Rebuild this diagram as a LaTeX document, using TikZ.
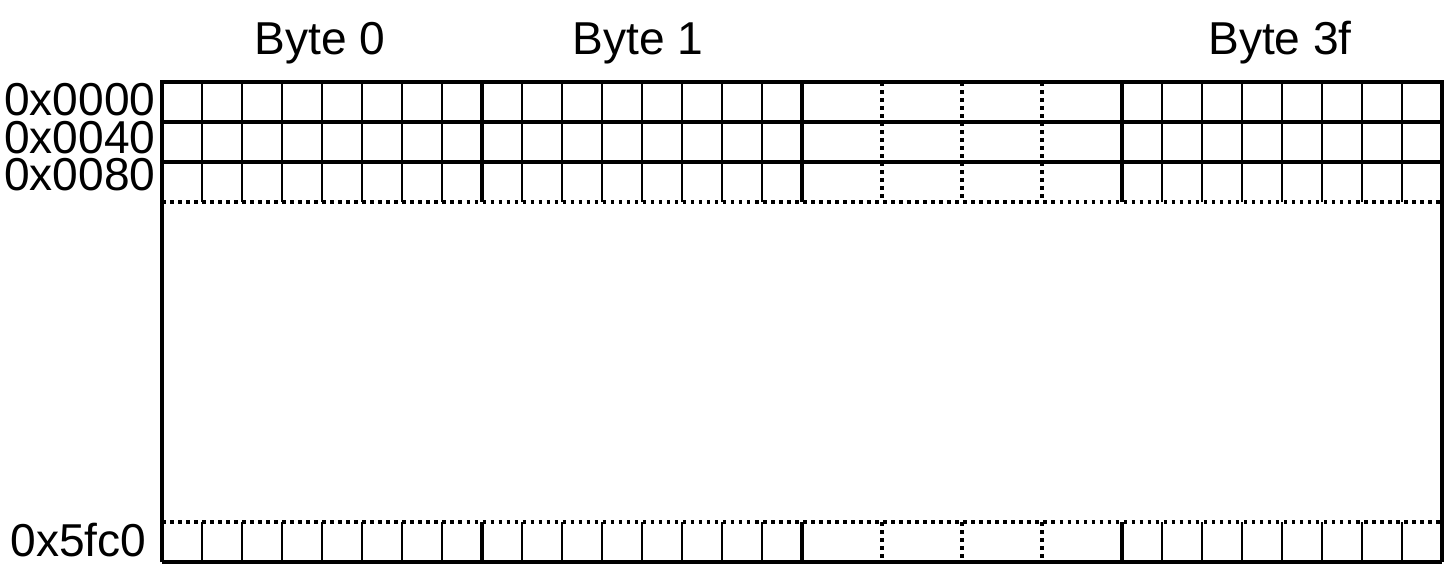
\documentclass[tikz,border=0pt]{standalone}
\usepackage{fontspec}
\setmainfont{Liberation Sans}
\usepackage{tikz}

\tikzset{
  cellline/.style={line width=1pt},
  byteline/.style={line width=1.6pt},
  gapline/.style={line width=1.25pt, dash pattern=on 1.25pt off 1.6pt},
  addr/.style={anchor=base east, inner sep=0pt, font=\fontsize{16.4}{16.4}\selectfont},
  bytename/.style={anchor=base, inner sep=0pt, font=\fontsize{16.4}{16.4}\selectfont}
}

\begin{document}
\begin{tikzpicture}[x=0.5cm, y=-0.5cm]
       \useasboundingbox (-4.05,-2.05) rectangle (32.15,12.15);

       % byte headings
       \node(B0)[bytename] at (3.95,-0.675) {Byte 0};
       \node(B1)[bytename] at (11.9,-0.675) {Byte 1};
       \node(B3f)[bytename] at (27.95,-0.675) {Byte 3f};

       % addresses
       \node(A0)[addr] at (-0.15,0.85) {0x0000};
       \node(A1)[addr] at (-0.15,1.78) {0x0040};
       \node(A2)[addr] at (-0.15,2.72) {0x0080};
       \node(An)[addr] at (-0.375,11.85) {0x5fc0};

       % bit cells
       \foreach \x in {1,...,7,9,10,...,15,25,26,...,31} {
         \draw[cellline] (\x,0) -- (\x,3);
         \draw[cellline] (\x,11) -- (\x,12);
       }
       \foreach \x in {18,20,22} {
         \draw[gapline] (\x,0) -- (\x,3);
         \draw[gapline] (\x,11) -- (\x,12);
       }

       % skipped rows
       \draw[gapline] (0,3) -- (32,3);
       \draw[gapline] (0,11) -- (32,11);

       % byte borders
       \foreach \x in {8,16,24} {
         \draw[byteline] (\x,0) -- (\x,3);
         \draw[byteline] (\x,11) -- (\x,12);
       }
       \foreach \y in {1,2} {
         \draw[byteline] (0,\y) -- (32,\y);
       }
       \draw[byteline] (0,12) -- (0,0) -- (32,0) -- (32,12);
       \draw[byteline] (0,12) -- (32,12);
\end{tikzpicture}
\end{document}
